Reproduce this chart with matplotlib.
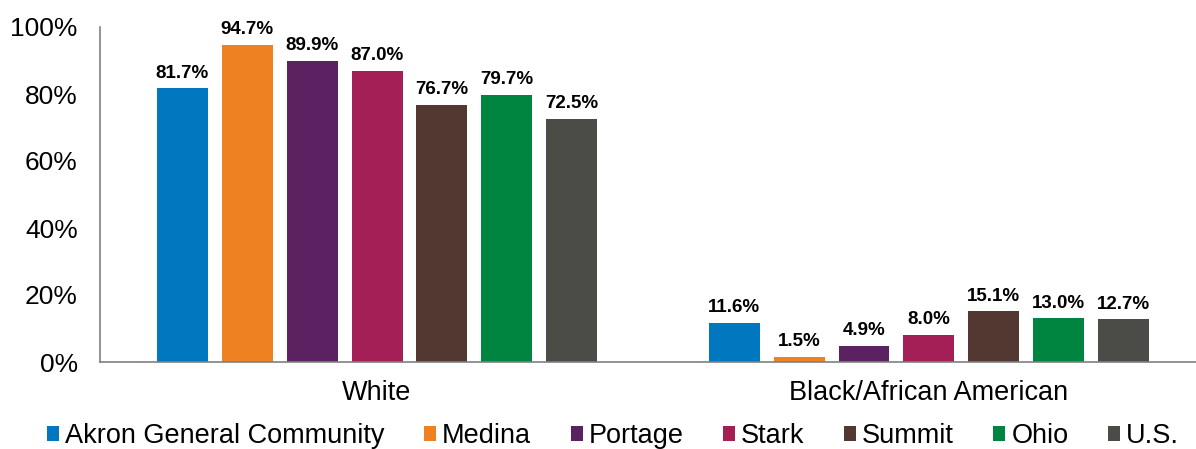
import matplotlib
matplotlib.use("Agg")
import matplotlib.pyplot as plt
import numpy as np

plt.rcParams['font.family'] = ['Liberation Sans', 'DejaVu Sans']

categories = ["White", "Black/African American"]
series_names = ["Akron General Community", "Medina", "Portage", "Stark", "Summit", "Ohio", "U.S."]
colors = ["#0077BF", "#EE8122", "#5C2160", "#A31F55", "#523830", "#008540", "#4B4C47"]
values = {
    "Akron General Community": [81.7, 11.6],
    "Medina": [94.7, 1.5],
    "Portage": [89.9, 4.9],
    "Stark": [87.0, 8.0],
    "Summit": [76.7, 15.1],
    "Ohio": [79.7, 13.0],
    "U.S.": [72.5, 12.7],
}

fig = plt.figure(figsize=(11.96, 4.49), dpi=100)
ax = fig.add_axes([100 / 1196, 87 / 449, 1 - 100 / 1196, 335 / 449])

x = np.arange(len(categories))
n = len(series_names)
slot = 0.1176
width = 0.0924

for i, (name, c) in enumerate(zip(series_names, colors)):
    pos = x + (i - (n - 1) / 2) * slot
    vals = values[name]
    bars = ax.bar(pos, vals, width=width, color=c, label=name)
    for b, v in zip(bars, vals):
        ax.text(b.get_x() + b.get_width() / 2, v + 2.0, f"{v:.1f}%",
                ha="center", va="bottom", fontsize=13.5, fontweight="bold")

ax.set_xlim(-0.502, 1.484)
ax.set_ylim(0, 100)
ax.set_yticks(np.arange(0, 101, 20))
ax.set_yticklabels([f"{t}%" for t in range(0, 101, 20)], fontsize=19)
ax.set_xticks(x)
ax.set_xticklabels(categories, fontsize=19.5)
ax.tick_params(axis="both", length=0)
ax.tick_params(axis="y", pad=16)
ax.tick_params(axis="x", pad=13)
for s in ["top", "right"]:
    ax.spines[s].set_visible(False)
for s in ["left", "bottom"]:
    ax.spines[s].set_color("#808080")
    ax.spines[s].set_linewidth(1.2)

fig.legend(loc="center", bbox_to_anchor=(0.5125, 0.029), ncol=n, frameon=False,
           fontsize=19.5, handlelength=0.45, handleheight=0.45, handletextpad=0.22,
           columnspacing=1.45, borderpad=0, borderaxespad=0)

fig.savefig("out.png", dpi=100)
